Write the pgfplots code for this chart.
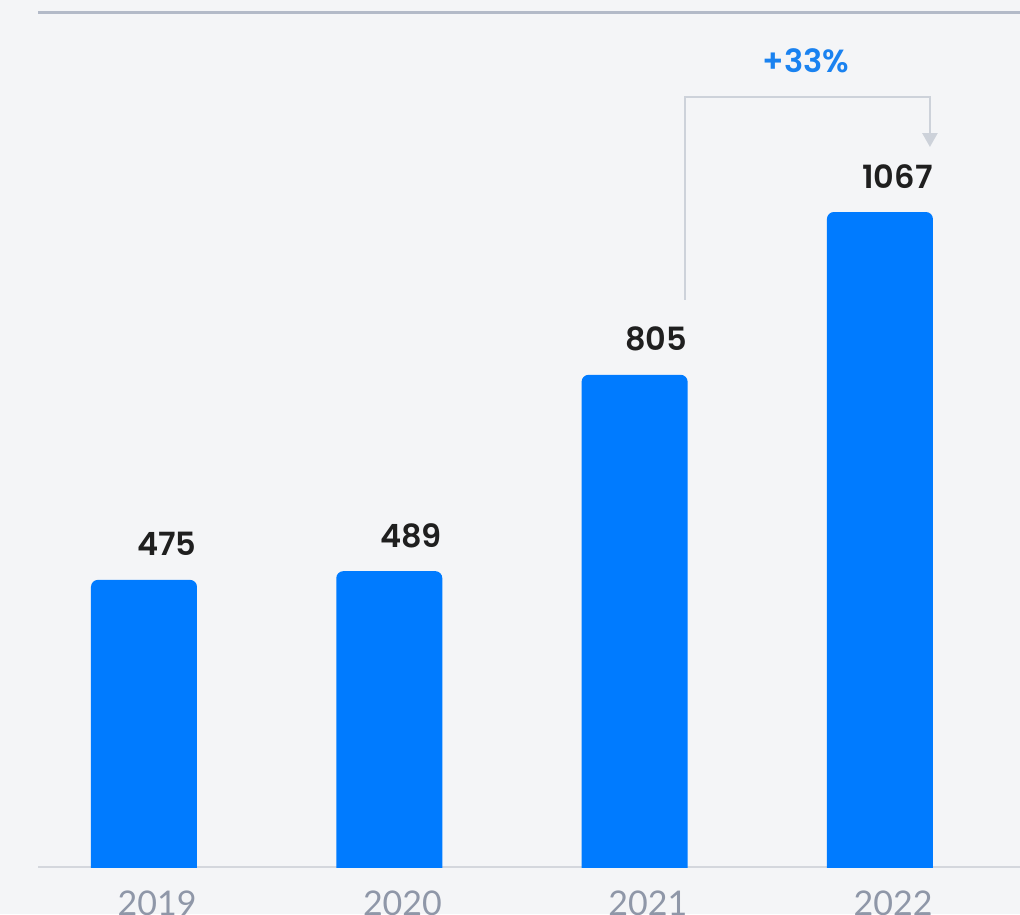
\documentclass[border=0pt]{standalone}
\usepackage{fontspec}
\usepackage{pgfplots}
\pgfplotsset{compat=1.18}
\usetikzlibrary{arrows.meta}
\setmainfont{Poppins}
\newfontfamily\valfont{Poppins SemiBold}
\newfontfamily\yearfont{Lato}
\definecolor{bg}{HTML}{F4F5F7}
\definecolor{barc}{HTML}{007BFF}
\definecolor{toplinec}{HTML}{B3BAC8}
\definecolor{baselnc}{HTML}{D4D7DD}
\definecolor{yearc}{HTML}{8F97A8}
\definecolor{valc}{HTML}{1F1F1F}
\definecolor{pctc}{HTML}{1A82F0}
\definecolor{brk}{HTML}{CDD2DA}
\begin{document}
\begin{tikzpicture}
\useasboundingbox (-19pt,-23.5pt) rectangle (491pt,433.5pt);
\clip (-19pt,-23.5pt) rectangle (491pt,433.5pt);
\fill[bg] (-19pt,-23.5pt) rectangle (491pt,433.5pt);
\draw[draw=baselnc, line width=1pt] (0,0) -- (491pt,0);
\draw[draw=toplinec, line width=1.5pt] (0,427pt) -- (491pt,427pt);
\begin{scope}
\clip (-19pt,0pt) rectangle (491pt,433.5pt);
\begin{axis}[
  at={(0,-4pt)}, anchor=south west,
  scale only axis, width=491pt, height=431pt,
  xmin=-0.432, xmax=3.571, ymin=0, ymax=1387.3,
  ybar, bar width=53pt,
  axis line style={draw=none},
  ytick=\empty, xtick=\empty,
  major tick length=0pt, tick style={draw=none},
  nodes near coords={\pgfmathprintnumber[1000 sep={},assume math mode=true]{\pgfplotspointmeta}},
  every node near coord/.append style={anchor=base east, xshift=26.5pt, yshift=12pt, inner sep=0pt,
    font=\valfont\fontsize{16}{16}\selectfont, text=valc},
  clip=true,
]
\addplot[fill=barc, draw=none, rounded corners=3.5pt] coordinates {(0,475) (1,489) (2,805) (3,1067)};
\draw[draw=brk, line width=1.3pt, -{Triangle[width=7.5pt,length=7pt]}]
  (axis cs:2.2053,925.4) |- (axis cs:3.2038,1252.1) -- (axis cs:3.2038,1171.6);
\node[anchor=base, inner sep=0pt, font=\valfont\fontsize{16}{16}\selectfont, text=pctc]
  at (axis cs:2.698,1292.3) {+33\%};
\end{axis}
\end{scope}
\begin{axis}[
  at={(0,0)}, anchor=south west,
  scale only axis, width=491pt, height=427pt,
  xmin=-0.432, xmax=3.571, ymin=0, ymax=1,
  axis line style={draw=none},
  ytick=\empty, xtick={0,1,2,3}, xticklabels={2019,2020,2021,2022},
  major tick length=0pt, tick style={draw=none},
  xticklabel style={anchor=base east, xshift=26.5pt, yshift=-24pt, inner sep=0pt,
    font=\yearfont\fontsize{17}{17}\selectfont, text=yearc},
]
\end{axis}
\end{tikzpicture}
\end{document}
